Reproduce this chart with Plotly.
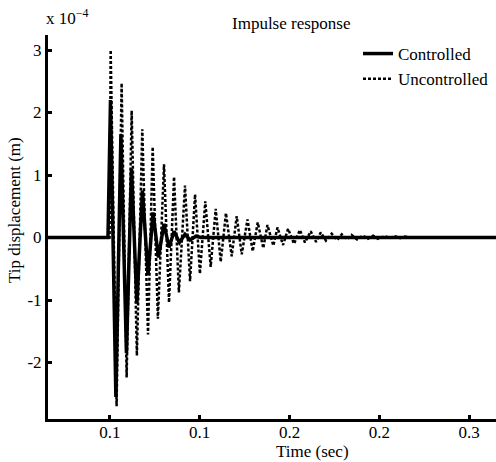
import plotly.graph_objects as go

# Extremes (time in s, displacement in units of 1e-4 m)
unc_t = [0.0655, 0.0998, 0.1004, 0.1037, 0.1065, 0.1093, 0.1121, 0.1150, 0.1180, 0.1212,
         0.1238, 0.1267, 0.1301, 0.1329, 0.1357, 0.1384, 0.1418, 0.1446, 0.1474, 0.1501,
         0.1531, 0.1561, 0.1589, 0.1617, 0.1646, 0.1678, 0.1706, 0.1734, 0.1766, 0.1795,
         0.1823, 0.1854, 0.1877, 0.1910, 0.1933, 0.1964, 0.1992, 0.2025, 0.2058, 0.2086,
         0.2118, 0.2148, 0.2174, 0.2203, 0.2235, 0.2265, 0.2291, 0.2320, 0.2346, 0.2376,
         0.2408, 0.2437, 0.2465, 0.2493, 0.2532, 0.2560, 0.2588, 0.2616, 0.2643, 0.2670,
         0.3200]
unc_y = [0.0, 0.0, 3.00, -2.70, 2.47, -2.24, 2.03, -1.89, 1.73, -1.55,
         1.45, -1.30, 1.17, -1.04, 0.97, -0.88, 0.83, -0.70, 0.69, -0.58,
         0.58, -0.47, 0.46, -0.39, 0.39, -0.30, 0.34, -0.27, 0.29, -0.22,
         0.24, -0.17, 0.20, -0.13, 0.16, -0.12, 0.14, -0.10, 0.12, -0.08,
         0.10, -0.07, 0.08, -0.05, 0.06, -0.04, 0.05, -0.03, 0.04, -0.03,
         0.03, -0.02, 0.03, -0.02, 0.02, -0.01, 0.02, -0.01, 0.015, 0.0,
         0.0]

ctl_t = [0.0655, 0.0989, 0.1003, 0.1033, 0.1061, 0.1092, 0.1120, 0.1150, 0.1181, 0.1212,
         0.1240, 0.1270, 0.1301, 0.1329, 0.1357, 0.1387, 0.1418, 0.1446, 0.1479, 0.1507,
         0.3200]
ctl_y = [0.0, 0.0, 2.20, -2.55, 1.65, -1.85, 1.10, -1.05, 0.75, -0.60,
         0.40, -0.32, 0.22, -0.16, 0.10, -0.08, 0.05, -0.04, 0.02, 0.0,
         0.0]

x_tickvals = [0.10, 0.15, 0.20, 0.25, 0.30]
x_ticktext = ["0.1", "0.1", "0.2", "0.2", "0.3"]
y_tickvals = [-2, -1, 0, 1, 2, 3]
y_ticktext = ["-2", "-1", "0", "1", "2", "3"]

FONT = "Liberation Serif"
FS = 17

fig = go.Figure()
fig.add_trace(go.Scatter(x=ctl_t, y=ctl_y, mode="lines", name="Controlled",
                         line=dict(color="black", width=3.5)))
fig.add_trace(go.Scatter(x=unc_t, y=unc_y, mode="lines", name="Uncontrolled",
                         line=dict(color="black", width=2.5, dash="3px,2px")))

W, H = 496, 462
L, R, T, B = 48, 0, 35, 43
pw, ph = W - L - R, H - T - B

def px(xp):
    return (xp - L) / pw

def py(yp):
    return (H - B - yp) / ph

fig.update_layout(
    width=W, height=H,
    margin=dict(l=L, r=R, t=T, b=B, pad=0),
    paper_bgcolor="white", plot_bgcolor="white",
    font=dict(family=FONT, size=FS, color="black"),
    showlegend=True,
    legend=dict(x=px(358), y=py(36), xanchor="left", yanchor="top",
                bgcolor="rgba(0,0,0,0)", borderwidth=0,
                font=dict(family=FONT, size=FS, color="black"),
                itemwidth=30, tracegroupgap=0),
    xaxis=dict(range=[0.0655, 0.3150], tickmode="array", tickvals=x_tickvals,
               ticktext=x_ticktext, showgrid=False, zeroline=False,
               showline=True, linecolor="black", linewidth=3,
               ticks="inside", ticklen=4, tickwidth=2.5, tickcolor="black",
               ticklabelstandoff=-4,
               tickfont=dict(family=FONT, size=FS)),
    yaxis=dict(range=[-2.904, 3.24], tickmode="array", tickvals=y_tickvals,
               ticktext=y_ticktext, showgrid=False, zeroline=False,
               showline=True, linecolor="black", linewidth=3,
               ticks="inside", ticklen=4, tickwidth=2.5, tickcolor="black",
               tickfont=dict(family=FONT, size=FS)),
    annotations=[
        dict(text="Impulse response", xref="paper", yref="paper",
             x=px(291), y=py(23), xanchor="center", yanchor="middle",
             showarrow=False, font=dict(family=FONT, size=FS)),
        dict(text="x 10<sup>−4</sup>", xref="paper", yref="paper",
             x=px(44), y=py(17), xanchor="left", yanchor="middle",
             showarrow=False, font=dict(family=FONT, size=FS)),
        dict(text="Tip displacement (m)", xref="paper", yref="paper",
             x=px(14), y=py(210), xanchor="center", yanchor="middle",
             textangle=-90, showarrow=False, font=dict(family=FONT, size=FS)),
        dict(text="Time (sec)", xref="paper", yref="paper",
             x=px(312), y=py(451), xanchor="center", yanchor="middle",
             showarrow=False, font=dict(family=FONT, size=FS)),
    ],
)

fig.write_html("out.html")
